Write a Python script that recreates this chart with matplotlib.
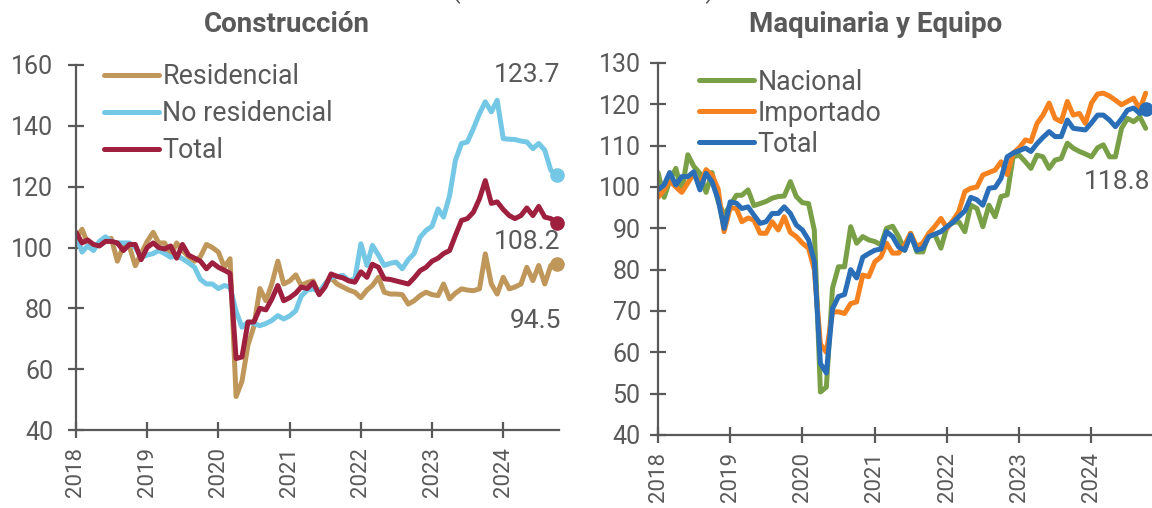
import numpy as np
import pandas as pd
import matplotlib
matplotlib.use("Agg")
import matplotlib.pyplot as plt

plt.rcParams['font.family'] = ['Roboto', 'DejaVu Sans']

# monthly index, Jan 2018 - Oct 2024
dates = pd.date_range("2018-01-01", periods=82, freq="MS")

# Construccion
residencial = [103, 106, 101.5, 100, 101.5, 102.5, 103, 95.5, 100.5, 100.5, 94, 98,
               102, 105, 101.5, 101.5, 97, 101.5, 99, 97, 95.5, 97, 101, 100,
               98.5, 93.5, 96.3, 51, 56, 68, 74, 86.5, 82.5, 88, 95.5, 88,
               89, 91, 87.5, 88.5, 89, 84.7, 88, 90, 88, 87, 86, 85.3,
               83.5, 86, 87.5, 90.2, 85.3, 84.7, 84.7, 84.5, 81.4, 82.5, 84.2, 85.3,
               84.5, 84.2, 88, 83.1, 85, 86.4, 86, 85.8, 86.4, 97.9, 88, 84.7,
               90.2, 86.4, 87, 88, 93.5, 89.1, 94.1, 88, 94.1, 94.5]
no_residencial = [104, 98.5, 100.5, 99, 102, 103.5, 102, 101.5, 101.5, 101.5, 100, 96.8,
                  97.5, 98, 99, 98, 96.8, 97.4, 96.3, 95, 93.5, 89.5, 88, 88,
                  86.5, 87.5, 87, 79, 73.8, 75.5, 75, 74.3, 75, 76, 77.6, 76.5,
                  77.5, 79.2, 84, 86, 86.4, 85.5, 88, 90.2, 90.5, 90.8, 89.1, 89.7,
                  101.2, 94.1, 100.7, 97.5, 94.1, 94.8, 95.2, 93, 96, 98, 103.4, 105.6,
                  107, 112.7, 110, 117.1, 128.7, 134.2, 134.7, 139.1, 144, 147.9, 144.6, 148.4,
                  135.8, 135.6, 135.5, 135, 134.7, 132.5, 134.2, 132, 125.4, 123.7]
total_con = [105, 101.5, 102.5, 101, 100.5, 102, 102, 101.5, 99, 101, 101, 96,
             100, 101.5, 100, 99.5, 100.5, 96.5, 101, 97.5, 96.5, 95.5, 93, 95,
             93.5, 92.5, 91.5, 63.5, 64, 75.5, 75.5, 80, 79.5, 83, 87.5, 82.5,
             83.5, 85, 87, 86.5, 88.5, 84.5, 87, 91.3, 90.5, 90, 89, 88.6,
             92, 90.2, 94.5, 93.5, 89.7, 89.5, 89, 88.5, 88, 90, 92.4, 93.5,
             95.5, 96.5, 98, 99, 104, 108.9, 109.5, 111.6, 116, 122, 114.5, 115,
             112.5, 110.5, 109.5, 110.5, 113, 110.5, 113.5, 110, 109.5, 108.2]

# Maquinaria y Equipo
nacional = [103.5, 97.5, 101.5, 104.5, 99, 107.8, 105, 103.3, 98.7, 103.5, 96.5, 93.2,
            95.6, 98, 98, 99.3, 95.5, 96, 96.5, 97.3, 97.7, 97.8, 101.3, 97.7,
            96.2, 96, 89.6, 50.4, 51.6, 75.5, 80.7, 80.7, 90.4, 86.4, 88, 87.2,
            86.8, 86, 90, 90.5, 88, 84.7, 88.8, 84.3, 84.3, 88.8, 88.4, 85.2,
            90.4, 91.4, 91.6, 89.2, 95.6, 94.8, 90.4, 95.6, 92.8, 97.7, 98.1, 107.3,
            107.7, 106.1, 104.5, 107.7, 107.3, 104.5, 106.5, 106.9, 110.6, 109.4, 108.6, 108,
            107.3, 109.5, 110.2, 107.3, 107.3, 114.2, 116.6, 115.8, 117, 114.2]
importado = [97.5, 99.3, 101.5, 100, 98.7, 101, 103.3, 100.5, 104.2, 102.9, 99.5, 89.2,
             95, 94.8, 91.6, 92.5, 92, 88.8, 88.8, 91.6, 89.6, 92.8, 89, 88,
             86.4, 85.2, 80, 62, 60, 69.8, 69.8, 69.4, 71.8, 72.2, 78.7, 78.3,
             81.9, 83.1, 86.4, 84, 84, 86, 88.8, 85.5, 86.5, 88.8, 90.5, 92.4,
             90, 92, 94, 98.9, 99.7, 100, 102.9, 103.5, 104.1, 106.1, 103, 108.2,
             109.5, 111.4, 111, 115.4, 117.4, 120.3, 116.6, 115.8, 120.7, 117.4, 117.8, 115.4,
             120.3, 122.5, 122.7, 122, 121, 119.9, 120.7, 121.5, 118.8, 122.7]
total_maq = [99.3, 100.5, 103.5, 100.5, 102.5, 102.5, 103.7, 99.3, 103.3, 101.3, 96.9, 90,
             96.4, 96.1, 94.8, 95.2, 93.2, 91.2, 91.6, 93.6, 93.6, 95.2, 93.6, 90.8,
             89.6, 87.2, 82, 57.3, 55, 70.5, 73.5, 74, 80, 78, 83, 83.9,
             84.7, 85, 89.2, 88, 85.5, 84.7, 88.4, 84.7, 85.2, 88, 88.6, 89.2,
             90.4, 91.5, 92.8, 94.2, 97.5, 96.9, 95.6, 99.7, 99.9, 102.1, 107.3, 108.2,
             108.8, 109.4, 108.6, 110.5, 112, 113.4, 112.2, 112.2, 116.2, 114.2, 114, 113.8,
             115.5, 117.4, 117.4, 116.2, 114.6, 116.5, 118.6, 119.1, 117.8, 118.8]

years = [str(y) for y in range(2018, 2025)]
gray = "#595959"
lw = 3.6

fig = plt.figure(figsize=(11.52, 5.08), dpi=100)
ax1 = fig.add_axes([76/1152, 78/508, 483/1152, 365/508])
ax2 = fig.add_axes([658/1152, 73/508, 494/1152, 372/508])


def style(ax, ylim, step, xend_days, ypad):
    ax.set_ylim(*ylim)
    ax.set_yticks(np.arange(ylim[0], ylim[1] + 1, step))
    ax.set_xlim(dates[0], dates[-1] + pd.Timedelta(days=xend_days))
    ax.set_xticks(pd.to_datetime([y + "-01-01" for y in years]))
    ax.set_xticklabels(years, rotation=90)
    for s in ["top", "right"]:
        ax.spines[s].set_visible(False)
    for s in ["left", "bottom"]:
        ax.spines[s].set_color(gray)
        ax.spines[s].set_linewidth(1.6)
    ax.tick_params(axis="both", direction="inout", length=11, width=1.6, color=gray,
                   labelcolor=gray)
    ax.tick_params(axis="y", labelsize=18, pad=ypad)
    ax.tick_params(axis="x", labelsize=16, pad=7)


style(ax1, (40, 160), 20, 12, 11)
style(ax2, (40, 130), 10, 32, 7)

ax1.plot(dates, residencial, color="#C0975A", lw=lw, label="Residencial", solid_capstyle="round")
ax1.plot(dates, no_residencial, color="#74C8E6", lw=lw, label="No residencial", solid_capstyle="round")
ax1.plot(dates, total_con, color="#9E1F3E", lw=lw, label="Total", solid_capstyle="round")
for ser, c in [(residencial, "#C0975A"), (no_residencial, "#74C8E6"), (total_con, "#9E1F3E")]:
    ax1.plot(dates[-1], ser[-1], "o", color=c, ms=9.5, clip_on=False)

ax2.plot(dates, nacional, color="#79A046", lw=lw, label="Nacional", solid_capstyle="round")
ax2.plot(dates, importado, color="#F5821F", lw=lw, label="Importado", solid_capstyle="round")
ax2.plot(dates, total_maq, color="#2A6EB8", lw=lw, label="Total", solid_capstyle="round")
ax2.plot(dates[-1], total_maq[-1], "o", color="#2A6EB8", ms=9.5, clip_on=False)

leg1 = ax1.legend(loc="upper left", frameon=False, fontsize=19.3, handlelength=2.05,
                  handletextpad=0.12, labelspacing=0.38, borderaxespad=0,
                  bbox_to_anchor=(0.036, 1.035))
leg2 = ax2.legend(loc="upper left", frameon=False, fontsize=19.3, handlelength=2.05,
                  handletextpad=0.12, labelspacing=0.15, borderaxespad=0,
                  bbox_to_anchor=(0.062, 1.014))
for leg in (leg1, leg2):
    for t in leg.get_texts():
        t.set_color(gray)
    for h in leg.get_lines():
        h.set_solid_capstyle("round")

# end labels
ax1.annotate(f"{no_residencial[-1]:.1f}", (dates[-1], no_residencial[-1]), xytext=(4, 100),
             textcoords="offset pixels", ha="right", va="center", fontsize=19, color=gray)
ax1.annotate(f"{total_con[-1]:.1f}", (dates[-1], total_con[-1]), xytext=(4, -19),
             textcoords="offset pixels", ha="right", va="center", fontsize=19, color=gray)
ax1.annotate(f"{residencial[-1]:.1f}", (dates[-1], residencial[-1]), xytext=(4, -57),
             textcoords="offset pixels", ha="right", va="center", fontsize=19, color=gray)
ax2.annotate(f"{total_maq[-1]:.1f}", (dates[-1], total_maq[-1]), xytext=(5, -73),
             textcoords="offset pixels", ha="right", va="center", fontsize=19, color=gray)

fig.text(287/1152, 1 - 24/508, "Construcción", ha="center", va="center", fontsize=20,
         fontweight="bold", color=gray, family=["Liberation Sans Narrow", "Roboto"])
fig.text(876/1152, 1 - 24/508, "Maquinaria y Equipo", ha="center", va="center", fontsize=20,
         fontweight="bold", color=gray, family=["Liberation Sans Narrow", "Roboto"])
fig.text(583/1152, 1 + 11/508, "(Índice base 2018=100)", ha="center", va="center",
         fontsize=18, color=gray)

fig.savefig("out.png", dpi=100)
